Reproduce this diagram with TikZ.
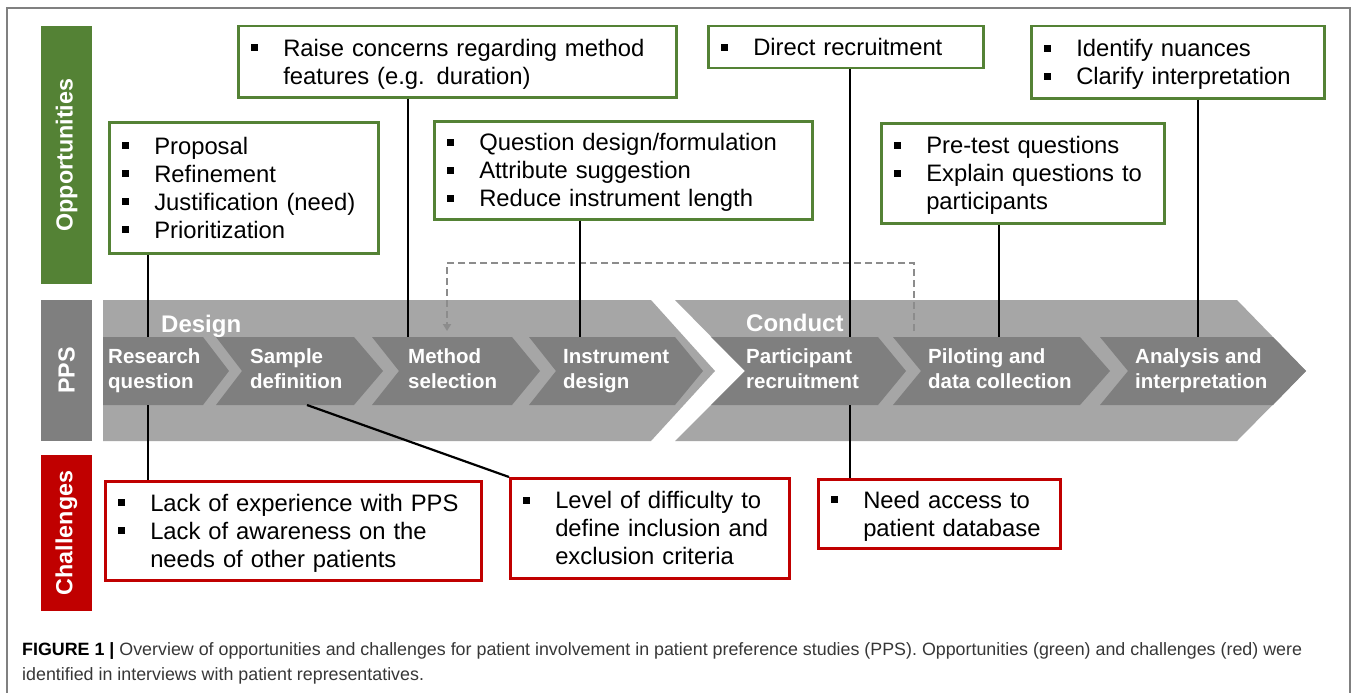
\documentclass[tikz,border=0pt]{standalone}
\usepackage{fontspec}
\setmainfont{Liberation Sans}
\usetikzlibrary{arrows.meta}
\definecolor{ogreen}{RGB}{84,130,53}
\definecolor{cred}{RGB}{192,0,0}
\definecolor{bandg}{RGB}{166,166,166}
\definecolor{chevg}{RGB}{127,127,127}
\definecolor{dashg}{RGB}{140,140,140}
\definecolor{frameg}{RGB}{128,128,128}
\definecolor{capg}{RGB}{55,55,55}
\newcommand\blt{\rule[5pt]{7pt}{7pt}}
\newcommand\bltf{\rule{0pt}{25.6pt}\rule[5pt]{7pt}{7pt}}
\begin{document}
\begin{tikzpicture}[x=1pt,y=-1pt,
  box/.style={draw, line width=2.5pt, fill=white, inner xsep=13pt, inner ysep=0pt,
    anchor=north west, align=left, font=\fontsize{23.8}{28}\selectfont},
  gbox/.style={box, draw=ogreen},
  rbox/.style={box, draw=cred},
  sidebar/.style={rotate=90, minimum height=51pt, inner sep=0pt, text=white,
    font=\fontsize{23.3}{28}\selectfont\bfseries},
  chevlabel/.style={anchor=west, inner sep=0pt, text=white,
    font=\fontsize{20.5}{25}\selectfont\bfseries},
  phase/.style={anchor=base west, inner sep=0pt, text=white,
    font=\fontsize{24}{28}\selectfont\bfseries},
  conn/.style={draw=black, line width=2.2pt},
  dashline/.style={draw=dashg, line width=2pt, dash pattern=on 7pt off 4pt,
    -{Triangle[length=7pt,width=8pt]}},
  capt/.style={anchor=base west, inner sep=0pt, text=capg,
    font=\fontsize{17.85}{25}\selectfont}
]
\useasboundingbox (0,0) rectangle (1357,693);
\fill[white] (0,0) rectangle (1357,693);
% frame
\draw[frameg, line width=1.3pt] (7,693) -- (7,8) -- (1350,8) -- (1350,693);

% side bars
\node[sidebar, fill=ogreen, minimum width=258pt] (opp) at (66.5,155) {Opportunities};
\node[sidebar, fill=chevg, minimum width=141pt] (pps) at (66.5,370.5) {PPS};
\node[sidebar, fill=cred, minimum width=156pt] (chal) at (66.5,533) {Challenges};

% big bands
\fill[bandg] (103,300) -- (651,300) -- (715,371) -- (651,441) -- (103,441) -- cycle;
\fill[bandg] (675,300) -- (1237,300) -- (1306,371) -- (1237,441) -- (675,441) -- (745,371) -- cycle;

% chevrons
\fill[chevg] (103,337) -- (203,337) -- (229,371) -- (203,405) -- (103,405) -- cycle;
\fill[chevg] (216,337) -- (354,337) -- (383,371) -- (354,405) -- (216,405) -- (242,371) -- cycle;
\fill[chevg] (372,337) -- (512,337) -- (540,371) -- (512,405) -- (372,405) -- (399,371) -- cycle;
\fill[chevg] (529,337) -- (675,337) -- (703,371) -- (675,405) -- (529,405) -- (556,371) -- cycle;
\fill[chevg] (711,337) -- (878,337) -- (906,371) -- (878,405) -- (711,405) -- (745,371) -- cycle;
\fill[chevg] (893,337) -- (1080,337) -- (1110,371) -- (1080,405) -- (893,405) -- (921,371) -- cycle;
\fill[chevg] (1100,337) -- (1273,337) -- (1306,371) -- (1273,405) -- (1100,405) -- (1128,371) -- cycle;

% phase labels
\node[phase] (design) at (161,332) {Design};
\node[phase] (conduct) at (746,331) {Conduct};

% chevron labels
\node[chevlabel] (rq) at (108,370.5) {\begin{tabular}{@{}l@{}}Research\\question\end{tabular}};
\node[chevlabel] (sd) at (250,370.5) {\begin{tabular}{@{}l@{}}Sample\\definition\end{tabular}};
\node[chevlabel] (ms) at (408,370.5) {\begin{tabular}{@{}l@{}}Method\\selection\end{tabular}};
\node[chevlabel] (id) at (563,370.5) {\begin{tabular}{@{}l@{}}Instrument\\design\end{tabular}};
\node[chevlabel] (pr) at (746,370.5) {\begin{tabular}{@{}l@{}}Participant\\recruitment\end{tabular}};
\node[chevlabel] (pd) at (928,370.5) {\begin{tabular}{@{}l@{}}Piloting and\\data collection\end{tabular}};
\node[chevlabel] (ai) at (1135,370.5) {\begin{tabular}{@{}l@{}}Analysis and\\interpretation\end{tabular}};

% attachment points
\coordinate (rqT) at (148,337);
\coordinate (rqB) at (148,405);
\coordinate (sdB) at (307,405);
\coordinate (msT) at (408,337);
\coordinate (idT) at (580,337);
\coordinate (prT) at (850,337);
\coordinate (prB) at (850,405);
\coordinate (pdT) at (999,337);
\coordinate (aiT) at (1198,337);
\coordinate (dS) at (914,331);
\coordinate (dE) at (447,331);
\coordinate (dTop) at (0,263);

% opportunity boxes
\node[gbox, minimum width=269pt, minimum height=131pt, text width=243pt] (g1) at (108,121)
 {\begin{tabular}{@{}p{32pt}@{}l@{}}\bltf & Proposal\\ \blt & Refinement\\ \blt & Justification (need)\\ \blt & Prioritization\end{tabular}};
\node[gbox, minimum width=438pt, minimum height=71pt, text width=412pt] (g2) at (237,25)
 {\begin{tabular}{@{}p{32pt}@{}l@{}}\bltf & Raise concerns regarding method\\ & features (e.g. duration)\end{tabular}};
\node[gbox, minimum width=378pt, minimum height=98pt, text width=352pt] (g3) at (433,120)
 {\begin{tabular}{@{}p{32pt}@{}l@{}}\bltf & Question design/formulation\\ \blt & Attribute suggestion\\ \blt & Reduce instrument length\end{tabular}};
\node[gbox, minimum width=275pt, minimum height=42pt, text width=249pt] (g4) at (707,25)
 {\begin{tabular}{@{}p{32pt}@{}l@{}}\bltf & Direct recruitment\end{tabular}};
\node[gbox, minimum width=283pt, minimum height=100pt, text width=257pt] (g5) at (880,122)
 {\begin{tabular}{@{}p{32pt}@{}l@{}}\bltf & Pre-test questions\\ \blt & Explain questions to\\ & participants\end{tabular}};
\node[gbox, minimum width=293pt, minimum height=72pt, text width=267pt] (g6) at (1030,25)
 {\begin{tabular}{@{}p{32pt}@{}l@{}}\bltf & Identify nuances\\ \blt & Clarify interpretation\end{tabular}};

% challenge boxes
\node[rbox, minimum width=376pt, minimum height=99pt, text width=350pt] (r1) at (104,480)
 {\begin{tabular}{@{}p{32pt}@{}l@{}}\bltf & Lack of experience with PPS\\ \blt & Lack of awareness on the\\ & needs of other patients\end{tabular}};
\node[rbox, minimum width=279pt, minimum height=100pt, text width=253pt] (r2) at (509,477)
 {\begin{tabular}{@{}p{32pt}@{}l@{}}\bltf & Level of difficulty to\\ & define inclusion and\\ & exclusion criteria\end{tabular}};
\node[rbox, minimum width=242pt, minimum height=69pt, text width=216pt] (r3) at (817,478)
 {\begin{tabular}{@{}p{32pt}@{}l@{}}\bltf & Need access to\\ & patient database\end{tabular}};

% dashed feedback arrow
\draw[dashline] (dS) -- (dS |- dTop) -| (dE);

% connectors
\draw[conn] (g1.south -| rqT) -- (rqT);
\draw[conn] (rqB) -- (r1.north -| rqB);
\draw[conn] (g2.south -| msT) -- (msT);
\draw[conn] (g3.south -| idT) -- (idT);
\draw[conn] (g4.south -| prT) -- (prT);
\draw[conn] (prB) -- (r3.north -| prB);
\draw[conn] (g5.south -| pdT) -- (pdT);
\draw[conn] (g6.south -| aiT) -- (aiT);
\draw[conn] (sdB) -- (r2.north west);

% caption
\node[capt] (cap1) at (22,655) {\textcolor{black}{\textbf{FIGURE 1 |}} Overview of opportunities and challenges for patient involvement in patient preference studies (PPS). Opportunities (green) and challenges (red) were};
\node[capt] (cap2) at (22,680) {identified in interviews with patient representatives.};
\end{tikzpicture}
\end{document}
